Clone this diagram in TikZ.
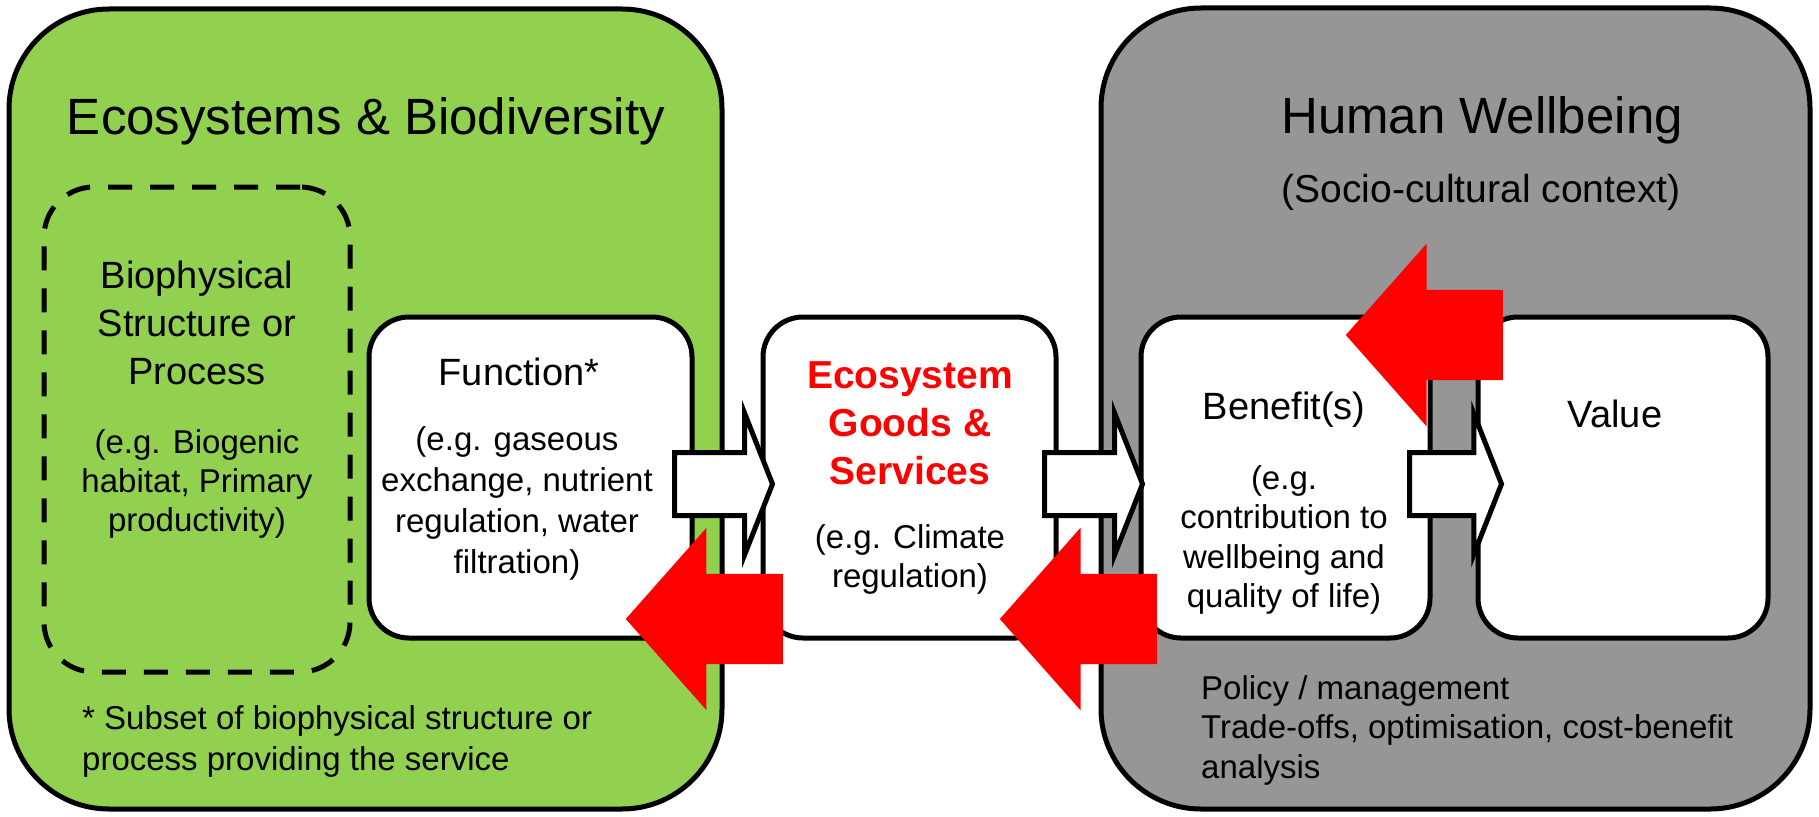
\documentclass[tikz,border=0pt]{standalone}
\usepackage{fontspec}
\setmainfont{Liberation Sans}
\usepackage{xcolor}
\usetikzlibrary{shapes,shapes.arrows}
\definecolor{ecogreen}{RGB}{146,208,80}
\definecolor{hwgrey}{RGB}{150,150,150}

\begin{document}
\begin{tikzpicture}[x=1pt, y=-1pt,
	bigbox/.style={draw, line width=5, rounded corners=100, inner sep=0},
	card/.style={draw, fill=white, line width=5, rounded corners=40, inner sep=0, minimum height=321},
	title/.style={font=\fontsize{51}{60}\selectfont, inner sep=0, anchor=north},
	hdr/.style={font=\fontsize{38}{48}\selectfont, inner sep=0, align=center, anchor=north},
	body/.style={font=\fontsize{33}{40}\selectfont, inner sep=0, align=center, anchor=north},
	whitearr/.style={single arrow, draw, fill=white, line width=5, inner xsep=0, inner ysep=29, minimum height=98,
		single arrow head extend=39, single arrow tip angle=137, single arrow head indent=0, anchor=tail},
	redarr/.style={single arrow, fill=red, inner xsep=0, inner ysep=45, minimum height=157,
		single arrow head extend=46, single arrow tip angle=97, single arrow head indent=0, shape border rotate=180, anchor=tail}
]
\useasboundingbox (0,0) rectangle (1819,816);

\node[bigbox, fill=ecogreen, minimum width=713, minimum height=800] (eco) at (365.5,409) {};
\node[bigbox, fill=hwgrey, minimum width=709, minimum height=801] (hw) at (1455.5,408.5) {};
\node[title] (ecotitle) at (366,97) {Ecosystems \& Biodiversity};
\node[title] (hwtitle) at (1482,96) {Human Wellbeing};
\node[font=\fontsize{39}{48}\selectfont, inner sep=0, anchor=north] (socio) at (1481,174) {(Socio-cultural context)};

\node[draw, line width=5, dash pattern=on 24 off 18, rounded corners=50, inner sep=0, minimum width=306, minimum height=485] (bio) at (197,429.5) {};
\node[hdr] (biotxt) at (197,261) {Biophysical\\Structure or\\Process};
\node[body, font=\fontsize{33}{39}\selectfont] (bioeg) at (197,429) {(e.g. Biogenic\\habitat, Primary\\productivity)};

\node[card, minimum width=323] (func) at (530.5,477.5) {};
\node[card, minimum width=293] (goods) at (909.5,477.5) {};
\node[card, minimum width=289] (ben) at (1285.5,477.5) {};
\node[card, minimum width=290] (val) at (1623,477.5) {};

\node[hdr] (functxt) at (519,358) {Function*};
\node[body, font=\fontsize{33}{41}\selectfont] (funceg) at (517,426) {(e.g. gaseous\\exchange, nutrient\\regulation, water\\filtration)};
\node[hdr, font=\bfseries\fontsize{39}{48}\selectfont, text=red] (goodstxt) at (910,361) {Ecosystem\\Goods \&\\Services};
\node[body, font=\fontsize{33}{39}\selectfont] (goodseg) at (910,524) {(e.g. Climate\\regulation)};
\node[hdr] (bentxt) at (1284,392) {Benefit(s)};
\node[body, font=\fontsize{33}{39.5}\selectfont] (beneg) at (1284,465) {(e.g.\\contribution to\\wellbeing and\\quality of life)};
\node[hdr] (valtxt) at (1615,400) {Value};

\node[body, align=left, anchor=north west, font=\fontsize{33}{41}\selectfont] (note) at (82,705) {* Subset of biophysical structure or\\process providing the service};
\node[body, align=left, anchor=north west, font=\fontsize{33}{39.5}\selectfont] (policy) at (1201,675) {Policy / management\\Trade-offs, optimisation, cost-benefit\\analysis};

\node[whitearr] (a1) at (672,484) {};
\node[whitearr] (a2) at (1042,484) {};
\node[whitearr, minimum height=92] (a3) at (1407,484) {};

\node[redarr] (r1) at (783,619) {};
\node[redarr] (r2) at (1157,619) {};
\node[redarr] (r3) at (1503,335) {};
\end{tikzpicture}
\end{document}
